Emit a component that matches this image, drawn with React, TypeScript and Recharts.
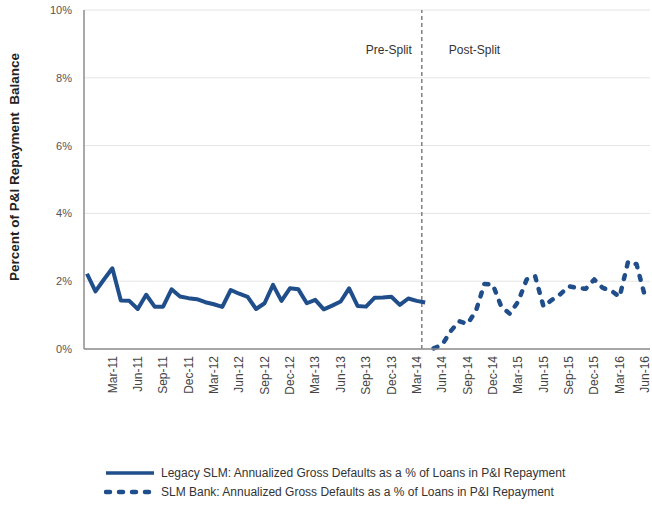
import { LineChart, Line, XAxis, YAxis, CartesianGrid, ReferenceLine, Legend } from 'recharts';

const months = [
  'Dec-10',
  'Jan-11', 'Feb-11', 'Mar-11', 'Apr-11', 'May-11', 'Jun-11', 'Jul-11', 'Aug-11', 'Sep-11', 'Oct-11', 'Nov-11', 'Dec-11',
  'Jan-12', 'Feb-12', 'Mar-12', 'Apr-12', 'May-12', 'Jun-12', 'Jul-12', 'Aug-12', 'Sep-12', 'Oct-12', 'Nov-12', 'Dec-12',
  'Jan-13', 'Feb-13', 'Mar-13', 'Apr-13', 'May-13', 'Jun-13', 'Jul-13', 'Aug-13', 'Sep-13', 'Oct-13', 'Nov-13', 'Dec-13',
  'Jan-14', 'Feb-14', 'Mar-14', 'Apr-14', 'May-14', 'Jun-14', 'Jul-14', 'Aug-14', 'Sep-14', 'Oct-14', 'Nov-14', 'Dec-14',
  'Jan-15', 'Feb-15', 'Mar-15', 'Apr-15', 'May-15', 'Jun-15', 'Jul-15', 'Aug-15', 'Sep-15', 'Oct-15', 'Nov-15', 'Dec-15',
  'Jan-16', 'Feb-16', 'Mar-16', 'Apr-16', 'May-16', 'Jun-16',
];

const tickLabels = [
  'Mar-11', 'Jun-11', 'Sep-11', 'Dec-11', 'Mar-12', 'Jun-12', 'Sep-12', 'Dec-12',
  'Mar-13', 'Jun-13', 'Sep-13', 'Dec-13', 'Mar-14', 'Jun-14', 'Sep-14', 'Dec-14',
  'Mar-15', 'Jun-15', 'Sep-15', 'Dec-15', 'Mar-16', 'Jun-16',
];

// Legacy SLM, Dec-10 .. Apr-14
const legacySLM = [
  2.22, 1.7, 2.05, 2.38, 1.43, 1.42, 1.18, 1.6, 1.25, 1.25, 1.76, 1.55, 1.5,
  1.47, 1.38, 1.32, 1.24, 1.74, 1.63, 1.54, 1.18, 1.35, 1.89, 1.42, 1.79,
  1.76, 1.35, 1.45, 1.17, 1.28, 1.4, 1.79, 1.27, 1.25, 1.51, 1.52, 1.54,
  1.3, 1.49, 1.42, 1.37,
];

// SLM Bank, May-14 .. Jun-16
const slmBank = [
  0.02, 0.12, 0.52, 0.82, 0.74, 1.12, 1.92, 1.9,
  1.25, 1.04, 1.4, 2.05, 2.15, 1.25, 1.45, 1.62, 1.85, 1.8, 1.78, 2.05,
  1.8, 1.72, 1.54, 2.58, 2.5, 1.55,
];

const yTicks = [0, 2, 4, 6, 8, 10];
const splitMonth = 39.6; // between Mar-14 and Apr-14

const legacyName = 'Legacy SLM: Annualized Gross Defaults as a % of Loans in P&I Repayment';
const bankName = 'SLM Bank: Annualized Gross Defaults as a % of Loans in P&I Repayment';

const bankStart = months.indexOf('May-14');
const data = months.map((m, i) => ({
  idx: i,
  month: m,
  legacy: i < legacySLM.length ? legacySLM[i] : null,
  bank: i >= bankStart ? slmBank[i - bankStart] : null,
}));
const tickIdx = tickLabels.map((l) => months.indexOf(l));

const BLUE = '#1f4e8a';

function MonthTick(props: any) {
  const { x, y, payload } = props;
  return (
    <text
      x={x}
      y={y}
      dy="0.35em"
      transform={`rotate(-90 ${x} ${y})`}
      textAnchor="end"
      fontSize={12}
      fill="#444"
    >
      {months[payload.value]}
    </text>
  );
}

function SplitLabels(props: any) {
  const vx = props.viewBox?.x ?? 421;
  return (
    <g fontSize={12} fill="#333">
      <text x={vx - 10} y={54} textAnchor="end">Pre-Split</text>
      <text x={vx + 27} y={54} textAnchor="start">Post-Split</text>
    </g>
  );
}

function YLabel() {
  return (
    <text
      x={14}
      y={167}
      transform="rotate(-90 14 167)"
      textAnchor="middle"
      dominantBaseline="central"
      fontSize={13.5}
      fontWeight="bold"
      fill="#222"
      style={{ whiteSpace: 'pre' }}
    >
      Percent of P&amp;I Repayment  Balance
    </text>
  );
}

function LegendBox(props: any) {
  const items = props.payload || [];
  return (
    <div>
      {items.map((it: any) => (
        <div key={it.value} style={{ display: 'flex', alignItems: 'center', height: 19 }}>
          <svg width={52} height={8} style={{ marginRight: 5 }}>
            <line
              x1={2}
              y1={4}
              x2={50}
              y2={4}
              stroke={it.color}
              strokeWidth={it.payload?.strokeDasharray ? 4.5 : 3.5}
              strokeDasharray={it.payload?.strokeDasharray}
              strokeLinecap={it.payload?.strokeDasharray ? 'round' : 'butt'}
            />
          </svg>
          <span style={{ fontSize: 12, color: '#333', whiteSpace: 'nowrap' }}>{it.value}</span>
        </div>
      ))}
    </div>
  );
}

export default function App() {
  return (
    <div
      style={{
        position: 'absolute',
        left: 0,
        top: 0,
        width: 652,
        height: 512,
        background: '#fff',
        fontFamily: '"Liberation Sans", Arial, sans-serif',
      }}
    >
      <LineChart width={652} height={512} data={data} margin={{ top: 10, right: 2, bottom: 0, left: 0 }}>
        <CartesianGrid vertical={false} stroke="#e4e4e4" strokeWidth={1} />
        <XAxis
          type="number"
          dataKey="idx"
          domain={[0, months.length - 1]}
          ticks={tickIdx}
          interval={0}
          tick={<MonthTick />}
          tickLine={false}
          tickSize={0}
          tickMargin={7}
          axisLine={{ stroke: '#8c8c8c', strokeWidth: 1.5 }}
          padding={{ left: 3, right: 5 }}
          height={163}
        />
        <YAxis
          domain={[0, 10]}
          ticks={yTicks}
          interval={0}
          tickFormatter={(v) => `${v}%`}
          tickLine={false}
          tickSize={0}
          tickMargin={12}
          tick={{ fontSize: 11, fill: '#555' }}
          axisLine={{ stroke: '#8c8c8c', strokeWidth: 1.5 }}
          width={84}
          label={<YLabel />}
        />
        <ReferenceLine
          x={splitMonth}
          stroke="#808080"
          strokeWidth={1.5}
          strokeDasharray="4 3"
          label={<SplitLabels />}
        />
        <Line
          type="linear"
          dataKey="legacy"
          name={legacyName}
          stroke={BLUE}
          strokeWidth={4}
          strokeLinejoin="round"
          dot={false}
          activeDot={false}
          isAnimationActive={false}
        />
        <Line
          type="linear"
          dataKey="bank"
          name={bankName}
          stroke={BLUE}
          strokeWidth={4.5}
          strokeDasharray="4 9"
          strokeLinecap="round"
          strokeLinejoin="round"
          dot={false}
          activeDot={false}
          isAnimationActive={false}
        />
        <Legend
          layout="horizontal"
          verticalAlign="middle"
          align="center"
          content={<LegendBox />}
          wrapperStyle={{ left: 104, top: 463, width: 540, height: 40 }}
        />
      </LineChart>
    </div>
  );
}
